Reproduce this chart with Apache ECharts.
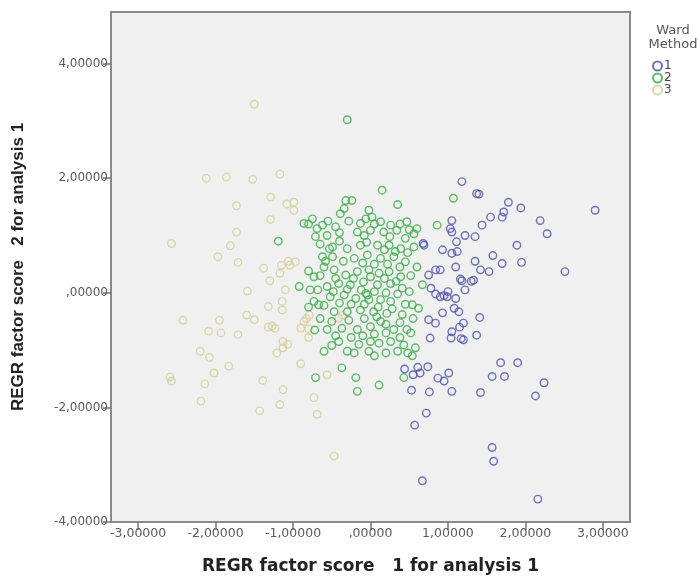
<!DOCTYPE html>
<html><head><meta charset="utf-8">
<script src="https://cdn.jsdelivr.net/npm/echarts@6/dist/echarts.min.js"></script>
<style>html,body{margin:0;padding:0;background:#fff}#c{width:700px;height:580px}</style>
</head><body><div id="c"></div>
<script>
const xTickValues = [-3, -2, -1, 0, 1, 2, 3];
const xTickLabels = ['-3,00000', '-2,00000', '-1,00000', ',00000', '1,00000', '2,00000', '3,00000'];
const yTickValues = [-4, -2, 0, 2, 4];
const yTickLabels = ['-4,00000', '-2,00000', ',00000', '2,00000', '4,00000'];
const xTitle = 'REGR factor score   1 for analysis 1';
const yTitle = 'REGR factor score   2 for analysis 1';
const legendTitle = 'Ward\nMethod';
const clusterNames = ['1', '2', '3'];

const cluster1 = [
[1.18,1.94],[1.37,1.73],[1.40,1.72],[1.78,1.58],[1.94,1.48],[1.72,1.41],[1.70,1.32],[1.55,1.32],[1.44,1.18],[1.05,1.26],
[2.19,1.26],[2.28,1.03],[2.90,1.44],[1.22,1.00],[1.35,0.98],[1.05,1.06],[1.11,0.89],[1.05,0.69],[1.89,0.83],[1.58,0.65],
[1.70,0.51],[1.95,0.53],[1.35,0.55],[1.42,0.40],[1.53,0.37],[2.51,0.37],[0.90,0.40],[1.18,0.21],[1.33,0.22],[1.22,0.05],
[0.90,-0.07],[0.99,-0.07],[1.10,-0.10],[1.08,-0.27],[1.14,-0.33],[1.20,-0.53],[1.41,-0.43],[1.05,-0.68],[1.20,-0.82],[1.37,-0.74],
[1.01,-1.40],[0.95,-1.54],[1.05,-1.72],[1.68,-1.22],[1.90,-1.22],[1.57,-1.46],[1.73,-1.46],[1.42,-1.74],[2.24,-1.57],[2.13,-1.80],
[1.57,-2.70],[1.59,-2.94],[2.16,-3.60],
[0.68,0.86],[0.84,0.40],[0.93,0.75],[0.78,0.08],[0.84,-0.02],[0.75,-0.47],[0.84,-0.53],[0.77,-0.79],[0.93,-0.35],[1.04,-0.79],
[0.44,-1.33],[0.61,-1.30],[0.74,-1.29],[0.55,-1.43],[0.64,-1.40],[0.87,-1.49],[0.53,-1.70],[0.76,-1.73],[0.72,-2.10],[0.57,-2.31],
[0.67,-3.28],[0.69,0.83],[1.03,1.12],[1.12,0.72],[0.75,0.31],[0.95,-0.05],[1.16,0.24],[1.17,-0.80],[1.30,0.20],[1.10,0.45],
[1.00,0.02],[1.15,-0.60]
];

const cluster2 = [
[0.15,1.79],[0.35,1.54],[-0.32,1.61],[-0.24,1.61],[-0.34,1.47],[-0.39,1.38],[-0.02,1.44],[-0.06,1.29],[0.02,1.32],[-0.75,1.29],
[-0.86,1.21],[-0.62,1.18],[-0.69,1.12],[-0.45,1.15],[-0.13,1.21],[0.13,1.24],[0.26,1.18],[0.47,1.24],[0.60,1.12],[0.86,1.18],
[-0.56,1.00],[-0.71,0.98],[-0.17,1.06],[0.00,1.09],[0.17,1.06],[0.34,1.09],[0.56,1.03],[-0.49,0.80],[-0.53,0.77],[-0.30,0.77],
[-0.13,0.83],[0.09,0.83],[0.24,0.83],[0.39,0.77],[0.56,0.80],[-0.62,0.63],[-0.49,0.63],[-0.21,0.60],[-0.04,0.66],[0.13,0.60],
[0.30,0.63],[0.45,0.54],[0.60,0.45],[-0.73,0.28],[-0.60,0.45],[-0.47,0.40],[-0.32,0.31],[-0.17,0.37],[-0.02,0.40],[0.11,0.34],
[0.24,0.37],[0.39,0.28],[-0.92,0.11],[-0.56,0.11],[-0.41,0.16],[-0.26,0.14],[-0.09,0.19],[0.09,0.14],[0.26,0.16],[0.41,0.08],
[0.67,0.14],[-0.73,-0.15],[-0.67,-0.21],[-0.52,-0.07],[-0.34,-0.04],[-0.19,-0.10],[-0.04,-0.04],[0.13,-0.12],[0.26,-0.15],[-0.06,-0.01],
[-0.02,-0.12],[0.54,-0.21],[0.62,-0.27],[-0.47,-0.33],[-0.30,-0.33],[-0.13,-0.30],[0.04,-0.33],[0.21,-0.36],[0.41,-0.38],[-0.56,-0.64],
[-0.37,-0.62],[-0.17,-0.64],[0.00,-0.59],[0.13,-0.50],[0.30,-0.64],[0.47,-0.64],[-0.60,-1.02],[-0.41,-0.85],[-0.30,-1.02],[-0.21,-1.05],
[-0.02,-1.02],[0.11,-0.88],[0.26,-0.85],[0.43,-0.91],[0.58,-0.96],[0.54,-1.10],[-0.37,-1.31],[-0.71,-1.48],[-0.19,-1.48],[0.11,-1.61],
[-0.17,-1.72],[0.43,-1.48],[-0.30,3.02],[-1.19,0.90],[1.07,1.65],
[-0.80,1.20],[-0.55,1.25],[-0.28,1.25],[0.05,1.20],[0.38,1.20],[0.50,1.10],[-0.40,1.05],[-0.08,1.00],[0.25,0.98],[0.45,0.95],
[-0.65,0.85],[-0.40,0.90],[-0.05,0.88],[0.18,0.75],[0.32,0.72],[0.48,0.70],[-0.58,0.55],[-0.35,0.55],[-0.10,0.52],[0.05,0.50],
[0.22,0.50],[0.38,0.45],[-0.80,0.38],[-0.65,0.30],[-0.45,0.25],[-0.22,0.25],[0.00,0.28],[0.18,0.25],[0.33,0.20],[0.52,0.30],
[-0.68,0.05],[-0.48,0.02],[-0.30,0.06],[-0.12,0.05],[0.05,0.02],[0.20,0.00],[0.35,-0.02],[0.50,0.02],[-0.80,-0.25],[-0.60,-0.22],
[-0.40,-0.18],[-0.25,-0.20],[-0.08,-0.20],[0.10,-0.25],[0.28,-0.28],[0.45,-0.20],[-0.65,-0.45],[-0.50,-0.50],[-0.28,-0.48],[-0.08,-0.45],
[0.08,-0.42],[0.20,-0.55],[0.38,-0.52],[0.55,-0.45],[-0.45,-0.75],[-0.25,-0.78],[-0.10,-0.75],[0.05,-0.72],[0.20,-0.70],[0.38,-0.78],
[0.52,-0.70],[-0.15,-0.90],[0.00,-0.85],[0.35,-1.02],[0.20,-1.05],[0.05,-1.10],[0.48,-1.05],[-0.50,-0.92],[-0.72,-0.65],[-0.78,0.05]
];

const cluster3 = [
[-1.50,3.29],[-2.12,2.00],[-1.86,2.02],[-1.52,1.98],[-1.17,2.07],[-1.73,1.52],[-1.29,1.67],[-1.08,1.55],[-0.99,1.58],[-0.99,1.44],
[-1.29,1.28],[-1.73,1.06],[-2.57,0.86],[-1.81,0.82],[-1.97,0.63],[-1.71,0.53],[-1.38,0.43],[-1.15,0.48],[-1.30,0.21],[-1.17,0.34],
[-1.06,0.55],[-0.97,0.54],[-1.04,0.48],[-1.59,0.03],[-1.32,-0.24],[-1.14,-0.15],[-1.14,-0.30],[-2.42,-0.48],[-1.95,-0.48],[-1.60,-0.39],
[-1.50,-0.47],[-2.09,-0.67],[-1.93,-0.70],[-1.71,-0.73],[-1.32,-0.60],[-1.23,-0.62],[-1.27,-0.58],[-1.13,-0.85],[-1.21,-1.05],[-1.13,-0.96],
[-2.20,-1.02],[-2.08,-1.13],[-1.83,-1.28],[-2.02,-1.40],[-2.59,-1.47],[-2.57,-1.54],[-2.14,-1.59],[-2.19,-1.89],[-1.39,-1.53],[-1.13,-1.69],
[-1.17,-1.95],[-1.43,-2.06],[-0.86,-0.50],[-0.79,-0.39],[-0.83,-0.45],[-0.90,-0.62],[-0.80,-0.63],[-0.36,-0.39],[-0.73,-1.83],[-0.69,-2.12],
[-0.90,-1.24],[-0.47,-2.85],[-0.80,-0.78],[-0.56,-1.43],[-1.07,-0.90],[-0.41,-0.44],[-1.10,0.05]
];

const colors = ['#4c52a8', '#38ad47', '#d3d09b'];

const chart = echarts.init(document.getElementById('c'), null, {renderer: 'canvas'});

function mk(name, data, color, z) {
  return {
    name: name, type: 'scatter', data: data, symbol: 'circle', symbolSize: 7.5, z: z,
    itemStyle: {color: 'rgba(0,0,0,0)', borderColor: color, borderWidth: 1.4},
    emphasis: {disabled: true}
  };
}

chart.setOption({
  animation: false,
  backgroundColor: '#ffffff',
  title: {
    text: legendTitle, left: 668, top: 19, textAlign: 'center',
    textStyle: {fontFamily: 'DejaVu Sans', fontSize: 13, fontWeight: 'normal', color: '#555', lineHeight: 14}
  },
  legend: {
    data: clusterNames, orient: 'vertical', left: 652, top: 60,
    itemWidth: 9, itemHeight: 9, itemGap: 0, icon: 'circle', padding: 0,
    textStyle: {fontFamily: 'DejaVu Sans', fontSize: 12, color: '#444', padding: [0, 0, 0, -3]},
    selectedMode: false
  },
  grid: {
    left: 111, right: 70, top: 12, bottom: 55, show: true,
    backgroundColor: '#f0f0f0', borderColor: '#8a8a8a', borderWidth: 2, containLabel: false
  },
  xAxis: {
    type: 'value', min: -3.35, max: 3.35,
    name: xTitle, nameLocation: 'middle', nameGap: 36,
    nameTextStyle: {fontFamily: 'DejaVu Sans', fontWeight: 'bold', fontSize: 17, color: '#222'},
    axisLine: {show: true, onZero: false, lineStyle: {color: '#8a8a8a', width: 2}},
    axisTick: {show: true, length: 8, customValues: xTickValues, lineStyle: {color: '#777', width: 1.5}},
    axisLabel: {customValues: xTickValues, margin: 5, fontFamily: 'DejaVu Sans', fontSize: 12.5, color: '#5a5a5a',
      formatter: v => xTickLabels[xTickValues.indexOf(v)]},
    splitLine: {show: false}
  },
  yAxis: {
    type: 'value', min: -4, max: 4.9,
    name: yTitle, nameLocation: 'middle', nameGap: 84,
    nameTextStyle: {fontFamily: 'Liberation Sans', fontWeight: 'bold', fontSize: 17, color: '#222'},
    axisLine: {show: true, onZero: false, lineStyle: {color: '#8a8a8a', width: 2}},
    axisTick: {show: true, length: 8, customValues: yTickValues, lineStyle: {color: '#777', width: 1.5}},
    axisLabel: {customValues: yTickValues, margin: 3, fontFamily: 'DejaVu Sans', fontSize: 12, color: '#5a5a5a',
      formatter: v => yTickLabels[yTickValues.indexOf(v)]},
    splitLine: {show: false}
  },
  series: [
    mk(clusterNames[2], cluster3, colors[2], 2),
    mk(clusterNames[1], cluster2, colors[1], 3),
    mk(clusterNames[0], cluster1, colors[0], 4)
  ]
});
</script>
</body></html>
